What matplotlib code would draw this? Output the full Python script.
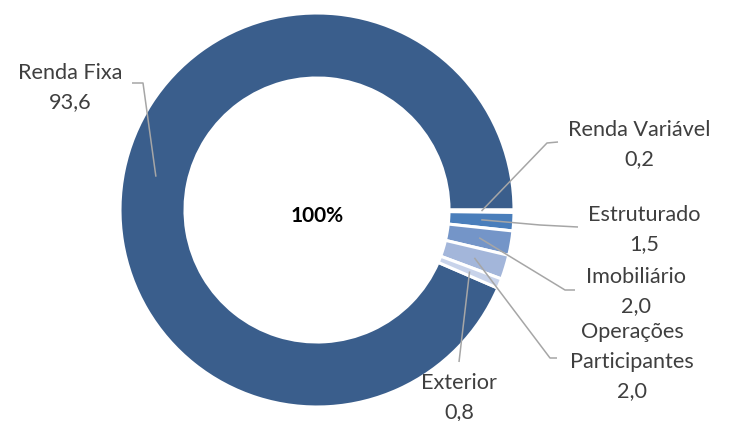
import numpy as np
import matplotlib
matplotlib.use("Agg")
import matplotlib.pyplot as plt

# ---- data ----
categories = ["Renda Fixa", "Renda Variável", "Estruturado", "Imobiliário",
              "Operações\nParticipantes", "Exterior"]
values = [93.6, 0.2, 1.5, 2.0, 2.0, 0.8]
value_labels = ["93,6", "0,2", "1,5", "2,0", "2,0", "0,8"]
center_label = "100%"

colors = ["#3A5E8C", "#2F4F7A", "#4A7EBB", "#7495C8", "#A3B6DA", "#C8D3EA"]

# ---- layout (pixel space, y measured from top) ----
W, H = 729, 421
cx, cy = 317, 210
R_out, R_in = 197, 132
# label text centres (x, y of first line) and elbow points of leader lines
label_pos = [(70, 73), (639, 130), (644, 215), (636, 277), (632, 332), (459, 383)]
elbows = [[(143, 83), (132, 83)],
          [(547, 143), (558, 142)],
          [(540, 225), (578, 227)],
          [(565, 290), (575, 290)],
          [(550, 358), (557, 358)],
          []]
line_step = 29.5

fig = plt.figure(figsize=(W / 100, H / 100), dpi=100)
ax = fig.add_axes([0, 0, 1, 1])

total = sum(values)
fixa_angle = values[0] / total * 360.0
wedges, _ = ax.pie(values, colors=colors, center=(cx, H - cy), radius=R_out,
                   startangle=fixa_angle, counterclock=False,
                   wedgeprops=dict(width=R_out - R_in, edgecolor="white", linewidth=2.2),
                   frame=True)
ax.set_xlim(0, W)
ax.set_ylim(0, H)
ax.axis("off")
ax.set_aspect("equal")

font = ["Lato", "DejaVu Sans"]
txt_color = "#3F3F3F"
line_color = "#A6A6A6"
r_mid = (R_out + R_in) / 2
for w, cat, vl, (lx, ly), elb in zip(wedges, categories, value_labels, label_pos, elbows):
    ang = np.deg2rad((w.theta1 + w.theta2) / 2)
    sx, sy = cx + r_mid * np.cos(ang), cy - r_mid * np.sin(ang)
    pts = [(sx, sy)] + elb
    if not elb:
        pts.append((lx, ly - 21))
    xs = [p[0] for p in pts]
    ys = [H - p[1] for p in pts]
    ax.plot(xs, ys, color=line_color, lw=1.1, solid_capstyle="butt")
    lines = cat.split("\n") + [vl]
    for i, t in enumerate(lines):
        ax.text(lx, H - (ly + i * line_step), t, ha="center", va="center",
                fontsize=15.6, color=txt_color, family=font)

ax.text(cx, H - 216, center_label, ha="center", va="center", fontsize=15,
        fontweight="bold", color="black", family=font)

fig.savefig("out.png", dpi=100)
